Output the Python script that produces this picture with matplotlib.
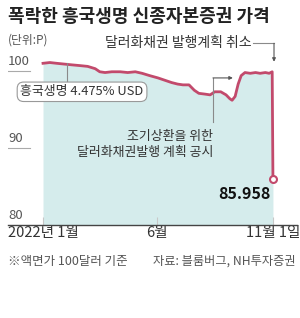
import matplotlib
matplotlib.use("Agg")
import matplotlib.pyplot as plt
import matplotlib.dates as mdates
import pandas as pd

plt.rcParams['font.family'] = ['Noto Sans CJK KR', 'DejaVu Sans']

# 흥국생명 4.475% USD 신종자본증권 가격 (액면가 100달러 기준)
dates = [
    "2022-01-01", "2022-01-10", "2022-01-19", "2022-01-29", "2022-02-08",
    "2022-02-19", "2022-03-01", "2022-03-11", "2022-03-17", "2022-03-24",
    "2022-04-02", "2022-04-13", "2022-04-23", "2022-05-03", "2022-05-12",
    "2022-05-22", "2022-06-02", "2022-06-11", "2022-06-20", "2022-06-28",
    "2022-07-05", "2022-07-13", "2022-07-20", "2022-07-26", "2022-08-03",
    "2022-08-10", "2022-08-16", "2022-08-24", "2022-08-31", "2022-09-05",
    "2022-09-08", "2022-09-12", "2022-09-16", "2022-09-20", "2022-09-25",
    "2022-10-02", "2022-10-09", "2022-10-15", "2022-10-22", "2022-10-27",
    "2022-10-31", "2022-11-01",
]
prices = [
    101.0, 101.1, 101.0, 100.9, 100.8,
    100.7, 100.6, 100.3, 99.9, 99.8,
    99.9, 99.9, 99.8, 99.9, 99.7,
    99.4, 99.1, 98.8, 98.5, 98.3,
    98.2, 98.2, 97.5, 97.1, 97.0,
    96.9, 97.3, 97.3, 96.9, 96.4,
    96.2, 96.7, 98.3, 99.4, 99.8,
    99.7, 99.8, 99.7, 99.8, 99.7,
    99.9, 85.958,
]
y_ticks = [100, 90, 80]
x_ticks = ["2022-01-01", "2022-06-01", "2022-11-01"]
x_tick_labels = ["2022년 1월", "6월", "11월 1일"]

line_color = "#c24a6c"
fill_color = "#d5ecec"
text_color = "#333333"
grey = "#8a8a8a"

x = pd.to_datetime(dates)
d0 = mdates.date2num(pd.Timestamp("2022-01-01"))

fig = plt.figure(figsize=(3.0, 3.18), dpi=100)
W, H = 300, 318


def fx(px):
    return px / W


def fy(py):
    return 1 - py / H


ax = fig.add_axes([fx(8), fy(225), fx(289), 195 / H])
ax.set_xlim(d0 - 46.3, d0 + 335.8)
ax.set_ylim(80, 80 + 195 / 7.7)

ax.fill_between(x, prices, 80, color=fill_color, lw=0)
ax.plot(x, prices, color=line_color, lw=2.0, solid_joinstyle="round")
ax.plot(x[-1], prices[-1], "o", ms=5, mfc="white", mec=line_color, mew=1.5)

for s in ["top", "right", "left"]:
    ax.spines[s].set_visible(False)
ax.spines["bottom"].set_color("#444444")
ax.spines["bottom"].set_linewidth(1.0)
ax.set_yticks([])

ax.set_xticks(pd.to_datetime(x_ticks))
ax.set_xticklabels(x_tick_labels, fontsize=10.5, color=text_color)
ax.tick_params(axis="x", direction="in", length=6, color="#c8c8c8", pad=1)

# y 눈금 라벨
for v in y_ticks:
    ax.text(0, v + 0.35, str(v), transform=ax.get_yaxis_transform(),
            fontsize=9.5, color="#555555", va="bottom", ha="left")
    if v != 80:
        ax.axhline(v, xmin=0, xmax=0.076, color="#aaaaaa", lw=0.8)

# 흥국생명 라벨 박스
ax.plot([d0 + 31.7, d0 + 31.7], [101.0, 98.6], color=grey, lw=0.8)
ax.text(d0 + 51.6, 97.3, "흥국생명 4.475% USD", fontsize=9.3, color=text_color,
        ha="center", va="center",
        bbox=dict(boxstyle="round,pad=0.25,rounding_size=0.5", fc="white",
                  ec="#999999", lw=0.8))

# 달러화채권 발행계획 취소
ax.text(d0 + 275, 103.6, "달러화채권 발행계획 취소", fontsize=10,
        color=text_color, ha="right", va="center")
ax.plot([d0 + 277.6, d0 + 305.4], [103.6, 103.6], color=grey, lw=0.8)
ax.annotate("", xy=(d0 + 305.4, 101.2), xytext=(d0 + 305.4, 103.6),
            arrowprops=dict(arrowstyle="-|>", color="#555555", lw=0.8,
                            mutation_scale=5, shrinkA=0, shrinkB=0))

# 조기상환 공시
ax.plot([d0 + 224.7, d0 + 224.7], [93.4, 99.1], color=grey, lw=0.8)
ax.annotate("", xy=(d0 + 251, 99.1), xytext=(d0 + 224.7, 99.1),
            arrowprops=dict(arrowstyle="-|>", color="#555555", lw=0.8,
                            mutation_scale=5, shrinkA=0, shrinkB=0))
ax.text(d0 + 224.7, 90.5, "조기상환을 위한\n달러화채권발행 계획 공시", fontsize=9.3,
        color=text_color, ha="right", va="center", multialignment="right",
        linespacing=1.3)

ax.text(d0 + 301, 84.0, "85.958", fontsize=11.5, fontweight="bold",
        color="#111111", ha="right", va="center")

fig.text(fx(8), fy(16), "폭락한 흥국생명 신종자본증권 가격", fontsize=13,
         fontweight="bold", color="#222222", ha="left", va="center")
fig.text(fx(8), fy(40), "(단위:P)", fontsize=8.5, color="#555555",
         ha="left", va="center")
fig.text(fx(8), fy(261), "※액면가 100달러 기준", fontsize=9,
         color="#555555", ha="left", va="center")
fig.text(fx(296), fy(261), "자료: 블룸버그, NH투자증권", fontsize=8.8,
         color="#555555", ha="right", va="center")

fig.savefig("out.png", dpi=100)
